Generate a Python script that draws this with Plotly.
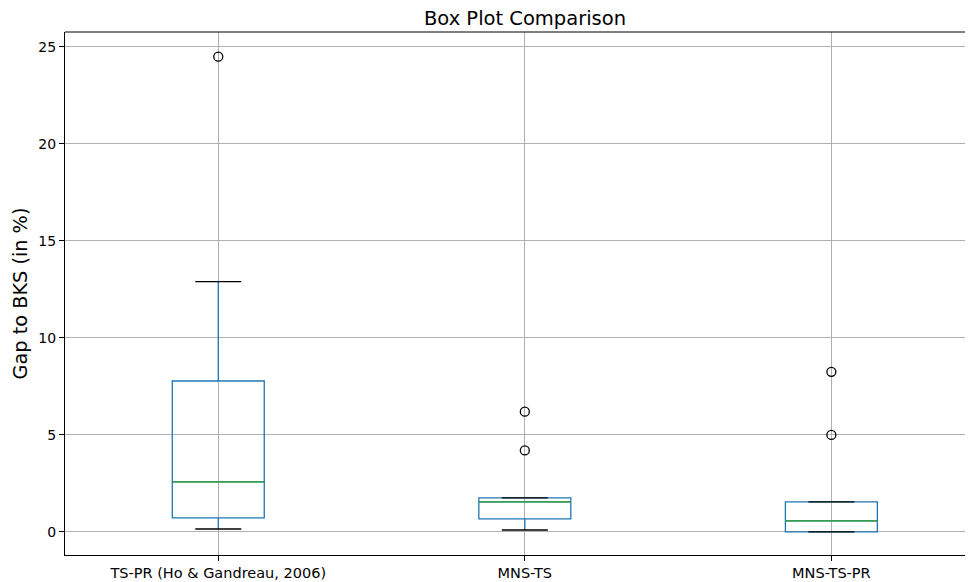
import plotly.graph_objects as go

categories = ["TS-PR (Ho & Gandreau, 2006)", "MNS-TS", "MNS-TS-PR"]
positions = [1, 2, 3]
q1 = [0.72, 0.67, 0.0]
median = [2.58, 1.55, 0.57]
q3 = [7.78, 1.75, 1.55]
lower_whisker = [0.15, 0.10, 0.0]
upper_whisker = [12.9, 1.75, 1.55]
outliers = [[24.5], [6.2, 4.2], [8.25, 5.0]]

box_width = 0.3
cap_width = box_width / 2

BLUE = "#1f77b4"
GREEN = "#2ca02c"

fig = go.Figure()

for i, p in enumerate(positions):
    fig.add_trace(go.Box(
        x=[p], q1=[q1[i]], median=[median[i]], q3=[q3[i]],
        lowerfence=[lower_whisker[i]], upperfence=[upper_whisker[i]],
        width=box_width, boxpoints=False,
        fillcolor="rgba(0,0,0,0)",
        line=dict(color=BLUE, width=1.3),
        whiskerwidth=0,
        showlegend=False, hoverinfo="skip",
    ))

# medians
mx, my = [], []
for i, p in enumerate(positions):
    mx += [p - box_width / 2, p + box_width / 2, None]
    my += [median[i], median[i], None]
fig.add_trace(go.Scatter(x=mx, y=my, mode="lines",
                         line=dict(color=GREEN, width=1.3),
                         showlegend=False, hoverinfo="skip"))

# caps
cx, cy = [], []
for i, p in enumerate(positions):
    for v in (lower_whisker[i], upper_whisker[i]):
        cx += [p - cap_width / 2, p + cap_width / 2, None]
        cy += [v, v, None]
fig.add_trace(go.Scatter(x=cx, y=cy, mode="lines",
                         line=dict(color="black", width=1.3),
                         showlegend=False, hoverinfo="skip"))

# outliers
ox, oy = [], []
for i, p in enumerate(positions):
    for v in outliers[i]:
        ox.append(p)
        oy.append(v)
fig.add_trace(go.Scatter(x=ox, y=oy, mode="markers",
                         marker=dict(symbol="circle-open", size=9,
                                     color="black", line=dict(width=1.3)),
                         showlegend=False, hoverinfo="skip"))

fig.add_shape(type="line", xref="paper", yref="paper", x0=0, x1=1, y0=1, y1=1,
              line=dict(color="black", width=1.1))

font = "DejaVu Sans"
W, H = 965, 582
fig.update_layout(
    width=W, height=H,
    margin=dict(l=57, r=0, t=24, b=35, autoexpand=False),
    paper_bgcolor="white", plot_bgcolor="white",
    font=dict(family=font, color="black", size=14),
    title=dict(text="Box Plot Comparison", x=517 / W,
               xanchor="center", y=1 - 10 / H, yanchor="middle",
               font=dict(size=19.5, family=font)),
    xaxis=dict(range=[0.5, 3.462], tickmode="array", tickvals=positions,
               ticktext=categories, showgrid=True, gridcolor="#b0b0b0",
               gridwidth=1.1, zeroline=False, showline=True, linecolor="black",
               linewidth=1.1, ticks="outside", ticklen=5, tickwidth=1.1,
               tickcolor="black", tickfont=dict(size=14.5), automargin=False),
    yaxis=dict(range=[-1.19, 25.77], tickmode="array", tickvals=[0, 5, 10, 15, 20, 25],
               showgrid=True, gridcolor="#b0b0b0", gridwidth=1.1, zeroline=False,
               showline=True, linecolor="black", linewidth=1.1, ticks="outside",
               ticklen=5, tickwidth=1.1, tickcolor="black", tickfont=dict(size=14),
               automargin=False,
               title=dict(text="Gap to BKS (in %)", font=dict(size=19.3), standoff=5)),
)

fig.write_html("out.html")
